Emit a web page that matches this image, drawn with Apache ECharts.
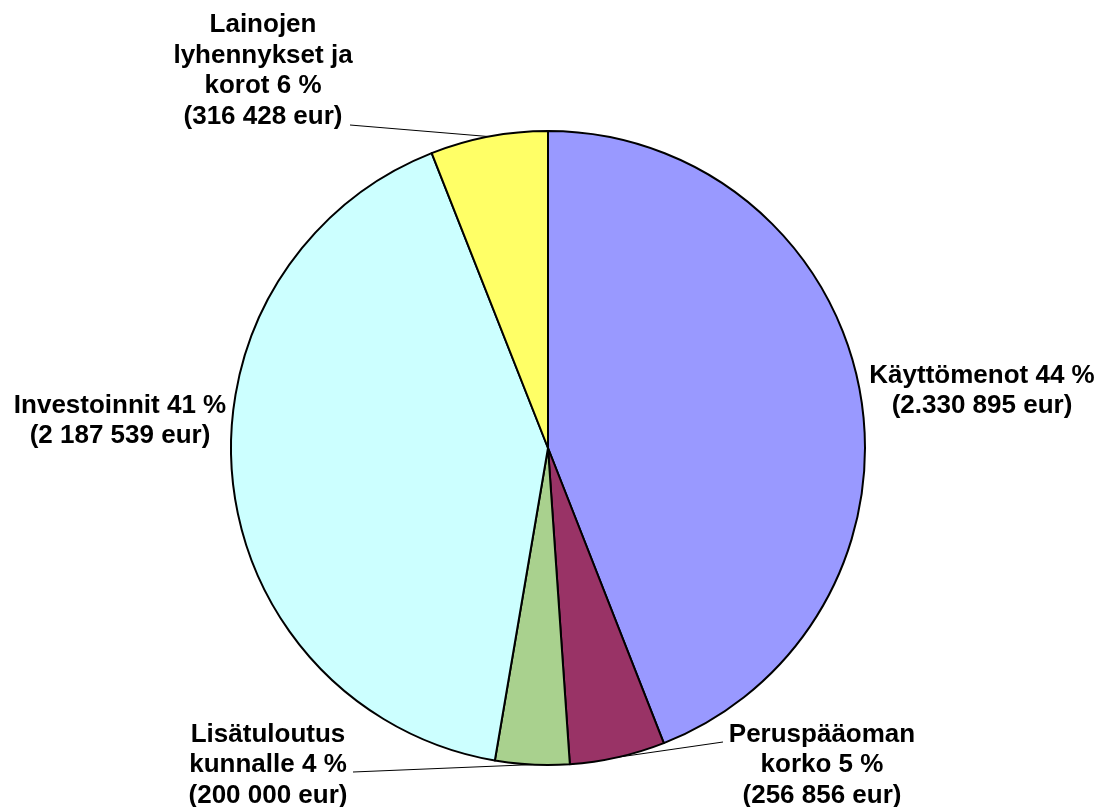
<!DOCTYPE html>
<html><head><meta charset="utf-8">
<script src="https://cdn.jsdelivr.net/npm/echarts@6/dist/echarts.min.js"></script>
<style>html,body{margin:0;padding:0;background:#fff}#c{width:1101px;height:807px}</style>
</head><body><div id="c"></div>
<script>
const categories = ['Käyttömenot', 'Peruspääoman korko', 'Lisätuloutus kunnalle', 'Investoinnit', 'Lainojen lyhennykset ja korot'];
const values = [2330895, 256856, 200000, 2187539, 316428];
const labelTexts = [
  'Käyttömenot 44 %\n(2.330 895 eur)',
  'Peruspääoman\nkorko 5 %\n(256 856 eur)',
  'Lisätuloutus\nkunnalle 4 %\n(200 000 eur)',
  'Investoinnit 41 %\n(2 187 539 eur)',
  'Lainojen\nlyhennykset ja\nkorot 6 %\n(316 428 eur)'
];
const colors = ['#9999FF', '#993366', '#A9D18E', '#CCFFFF', '#FFFF66'];
// label anchor positions (centre of text block) and leader-line ends (null = no line)
const labelPos = [[982, 391], [822, 765], [268, 765], [120, 421], [263, 71]];
const lineEnds = [null, [723, 742], [353, 772], null, [350, 125]];

const chart = echarts.init(document.getElementById('c'), null, {renderer: 'canvas'});
chart.setOption({
  animation: false,
  series: [{
    type: 'pie',
    center: [548, 448],
    radius: 317,
    startAngle: 90,
    clockwise: true,
    avoidLabelOverlap: false,
    itemStyle: {borderColor: '#000', borderWidth: 2},
    label: {
      show: true,
      position: 'outside',
      color: '#000',
      fontFamily: 'Liberation Sans, Arial, sans-serif',
      fontWeight: 'bold',
      fontSize: 26,
      lineHeight: 30.5,
      align: 'center',
      formatter: p => labelTexts[p.dataIndex]
    },
    labelLine: {show: true, lineStyle: {color: '#000', width: 1}, length: 10, length2: 10},
    labelLayout: p => {
      const i = p.dataIndex;
      const o = {x: labelPos[i][0], y: labelPos[i][1], align: 'center', verticalAlign: 'middle'};
      if (lineEnds[i] && p.labelLinePoints) {
        o.labelLinePoints = [p.labelLinePoints[0], lineEnds[i], lineEnds[i]];
      }
      return o;
    },
    emphasis: {disabled: true},
    data: categories.map((c, i) => ({
      name: c,
      value: values[i],
      itemStyle: {color: colors[i]},
      labelLine: {show: !!lineEnds[i]}
    }))
  }]
});
</script></body></html>
